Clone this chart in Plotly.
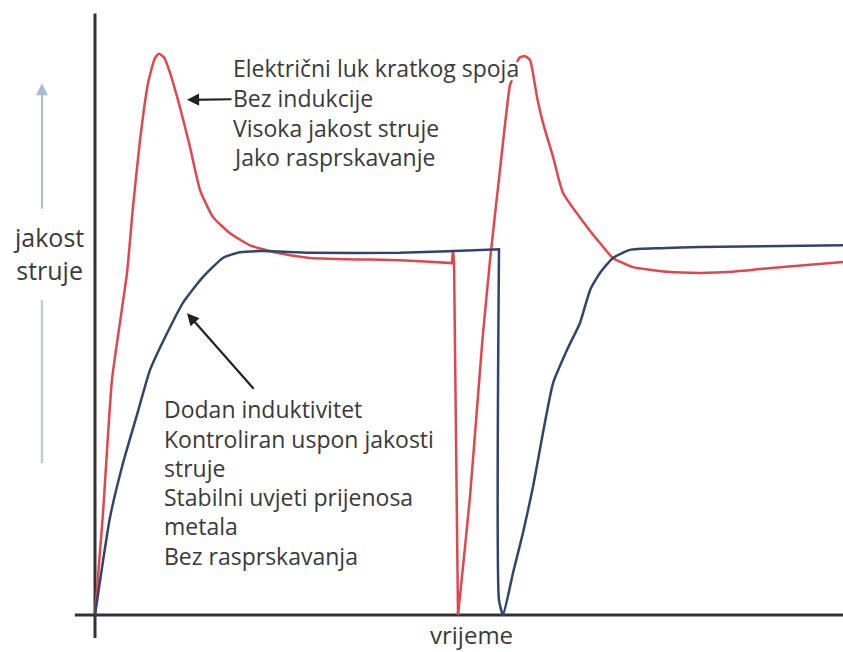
import plotly.graph_objects as go

# ---- data (time units 0..100, current units 0..100) ----
# corner points are listed twice so the smoothed line keeps a sharp corner there
red_t = [0, 1.07, 2.27, 4.28, 5.08, 6.02, 7.09, 8.02, 8.56, 9.22, 10.03, 11.36, 12.70, 14.04,
         15.78, 18.05, 20.72, 24.33, 28.74, 40.78, 47.73, 47.73, 47.86, 47.86, 48.0, 48.0,
         48.53, 48.53, 50.13, 51.74, 52.81, 54.14, 55.48, 55.75, None, 56.42, 56.82, 57.49,
         58.16, 59.09, 59.89, 61.23, 62.57, 65.78, 67.51, 69.25, 71.93, 76.47, 80.88, 85.29,
         91.58, 100]
red_i = [0, 17.7, 40.9, 59.5, 71.0, 82.6, 92.5, 96.9, 97.6, 97.0, 94.3, 88.3, 81.4, 73.9,
         69.2, 66.4, 64.3, 63.0, 62.1, 61.7, 61.2, 61.2, 63.5, 63.5, 61.4, 61.4,
         0, 0, 20.5, 47.0, 61.7, 77.4, 92.2, 93.0, None, 96.2, 97.0, 97.2,
         96.5, 90.1, 85.6, 79.7, 73.4, 67.5, 64.7, 62.1, 60.5, 59.7, 59.5, 59.7,
         60.5, 61.4]

blue_t = [0, 2.01, 3.74, 5.61, 7.35, 9.63, 11.76, 14.44, 17.11, 19.39, 22.46, 28.74, 40.78,
          54.01, 54.01, 54.01, 54.55, 55.88, 57.22, 58.56, 59.89, 61.23, 63.10, 64.84,
          66.18, 67.51, 69.25, 71.52, 75.53, 80.88, 100]
blue_i = [0, 17.0, 26.4, 34.8, 42.6, 49.0, 54.3, 58.8, 62.1, 63.1, 63.3, 63.0, 63.0,
          63.6, 63.6, 2.6, 0, 7.3, 14.3, 22.3, 31.7, 40.3, 46.1, 50.8,
          56.5, 59.5, 62.1, 63.5, 63.8, 64.0, 64.3]

y_label = "jakost<br>struje"
x_label = "vrijeme"
note_red_lines = ["Električni luk kratkog spoja", "Bez indukcije", "Visoka jakost struje",
                  "Jako rasprskavanje"]
note_blue_lines = ["Dodan induktivitet", "Kontroliran uspon jakosti", "struje",
                   "Stabilni uvjeti prijenosa", "metala", "Bez rasprskavanja"]

RED = "#e0464e"
BLUE = "#33446b"
TXT = "#3a3a3a"
FONT = "Open Sans"

fig = go.Figure()
fig.add_trace(go.Scatter(x=red_t, y=red_i, mode="lines",
                         line=dict(color=RED, width=2.5, shape="spline", smoothing=0.5,
                                   simplify=False),
                         connectgaps=False, hoverinfo="skip"))
fig.add_trace(go.Scatter(x=blue_t, y=blue_i, mode="lines",
                         line=dict(color=BLUE, width=2.5, shape="spline", smoothing=0.5,
                                   simplify=False),
                         hoverinfo="skip"))

# axis lines
fig.add_shape(type="line", x0=0, x1=0, y0=-4.0, y1=104.6, xref="x", yref="y",
              line=dict(color="#333333", width=3), layer="below")
fig.add_shape(type="line", x0=-2.7, x1=100, y0=0, y1=0, xref="x", yref="y",
              line=dict(color="#333333", width=3), layer="below")
# light blue axis-direction arrow (lower part)
fig.add_shape(type="line", x0=-7.09, x1=-7.09, y0=26.4, y1=54.8, xref="x", yref="y",
              line=dict(color="#c5ccd4", width=2.5), layer="below")
fig.add_annotation(x=-7.09, y=92.5, ax=-7.09, ay=70.4, axref="x", ayref="y", text="",
                   showarrow=True, arrowhead=2, arrowsize=1.2, arrowwidth=2, arrowcolor="#a9bdd2")

# labels
fig.add_annotation(x=-6.15, y=62.9, text=y_label, showarrow=False, xanchor="center",
                   yanchor="middle", align="center", font=dict(family=FONT, size=25, color=TXT))
fig.add_annotation(x=50.4, y=-3.3, text=x_label, showarrow=False, xanchor="center",
                   yanchor="middle", font=dict(family=FONT, size=24, color=TXT))

# note blocks, one annotation per line
for k, line in enumerate(note_red_lines):
    fig.add_annotation(x=18.18, y=95.1 - k * 5.17, text=line, showarrow=False, xanchor="left",
                       yanchor="middle", font=dict(family=FONT, size=23, color=TXT))
for k, line in enumerate(note_blue_lines):
    fig.add_annotation(x=8.96, y=35.75 - k * 5.08, text=line, showarrow=False, xanchor="left",
                       yanchor="middle", font=dict(family=FONT, size=23, color=TXT))

# black arrows
fig.add_annotation(x=12.30, y=89.6, ax=18.45, ay=89.7, axref="x", ayref="y", text="",
                   showarrow=True, arrowhead=2, arrowsize=1.1, arrowwidth=2.2, arrowcolor="#222222")
fig.add_annotation(x=12.30, y=52.5, ax=21.39, ay=39.1, axref="x", ayref="y", text="",
                   showarrow=True, arrowhead=2, arrowsize=1.1, arrowwidth=2.2, arrowcolor="#222222")

fig.update_xaxes(visible=False, range=[-12.70, 100.0])
fig.update_yaxes(visible=False, range=[-6.43, 106.96])
fig.update_layout(width=843, height=652, margin=dict(l=0, r=0, t=0, b=0),
                  plot_bgcolor="white", paper_bgcolor="white", showlegend=False)

fig.write_html("out.html", config={"displayModeBar": False},
               post_script="document.body.style.margin='0';document.body.style.overflow='hidden';")
